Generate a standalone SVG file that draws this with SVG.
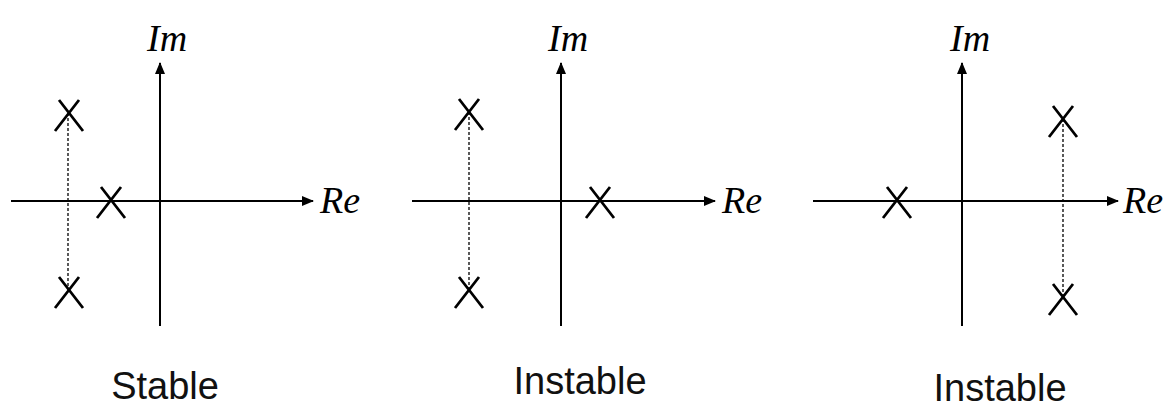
<svg xmlns="http://www.w3.org/2000/svg" width="1173" height="408" viewBox="0 0 1173 408">
<style>
.ax{stroke:#000;stroke-width:2;fill:none}
.pole{stroke:#000;stroke-width:2.8;fill:none;stroke-linecap:butt}
.dash{stroke:#000;stroke-width:1.3;stroke-dasharray:3 2;fill:none}
.axl{font-family:"Liberation Serif","Times New Roman",serif;font-style:italic;font-size:38px;fill:#000}
.cap{font-family:"Liberation Sans",Arial,sans-serif;font-size:38px;fill:#111;text-anchor:middle}
</style>
<defs>
<marker id="arr" viewBox="0 0 12 10" refX="11" refY="5" markerWidth="12" markerHeight="10" markerUnits="userSpaceOnUse" orient="auto">
<path d="M0,0 L12,5 L0,10 Z" fill="#000"/>
</marker>
<path id="x" d="M-10,-13 L14,18 M10,-13 L-14,18"/>
</defs>
<g id="connectors">
<line class="ax" x1="11" y1="201" x2="313" y2="201" marker-end="url(#arr)"/>
<line class="ax" x1="160" y1="326" x2="160" y2="63" marker-end="url(#arr)"/>
<line class="dash" x1="68" y1="113" x2="68" y2="290"/>
<line class="ax" x1="412" y1="201" x2="715" y2="201" marker-end="url(#arr)"/>
<line class="ax" x1="561" y1="326" x2="561" y2="63" marker-end="url(#arr)"/>
<line class="dash" x1="469" y1="112" x2="469" y2="290"/>
<line class="ax" x1="813" y1="201" x2="1118" y2="201" marker-end="url(#arr)"/>
<line class="ax" x1="962" y1="326" x2="962" y2="63" marker-end="url(#arr)"/>
<line class="dash" x1="1063" y1="119" x2="1063" y2="297"/>
</g>
<g id="panel1">
<text class="axl" x="147" y="51">Im</text>
<text class="axl" x="320" y="213">Re</text>
<use href="#x" class="pole" x="69" y="113"/>
<use href="#x" class="pole" x="69" y="290"/>
<use href="#x" class="pole" x="111" y="200"/>
<text class="cap" x="165" y="399">Stable</text>
</g>
<g id="panel2">
<text class="axl" x="548" y="51">Im</text>
<text class="axl" x="722" y="213">Re</text>
<use href="#x" class="pole" x="469" y="112"/>
<use href="#x" class="pole" x="469" y="290"/>
<use href="#x" class="pole" x="600" y="200"/>
<text class="cap" x="580" y="394">Instable</text>
</g>
<g id="panel3">
<text class="axl" x="950" y="51">Im</text>
<text class="axl" x="1123" y="213">Re</text>
<use href="#x" class="pole" x="897" y="200"/>
<use href="#x" class="pole" x="1063" y="119"/>
<use href="#x" class="pole" x="1063" y="297"/>
<text class="cap" x="1000" y="401">Instable</text>
</g>
</svg>
